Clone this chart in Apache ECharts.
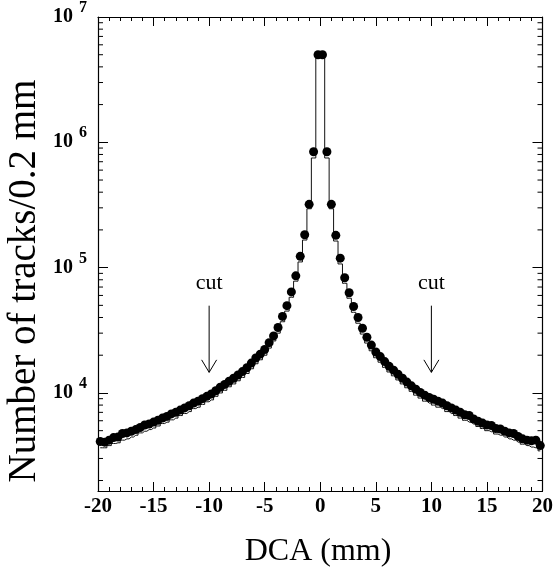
<!DOCTYPE html>
<html>
<head>
<meta charset="utf-8">
<script src="https://cdn.jsdelivr.net/npm/echarts@6/dist/echarts.min.js"></script>
<style>html,body{margin:0;padding:0;background:#fff;}#chart{width:556px;height:569px;}</style>
</head>
<body>
<div id="chart"></div>
<script>
// DCA bin centres (mm), 0.4 mm apart
var dcaBins = [-19.8,-19.4,-19.0,-18.6,-18.2,-17.8,-17.4,-17.0,-16.6,-16.2,-15.8,-15.4,-15.0,-14.6,-14.2,-13.8,-13.4,-13.0,-12.6,-12.2,
  -11.8,-11.4,-11.0,-10.6,-10.2,-9.8,-9.4,-9.0,-8.6,-8.2,-7.8,-7.4,-7.0,-6.6,-6.2,-5.8,-5.4,-5.0,-4.6,-4.2,
  -3.8,-3.4,-3.0,-2.6,-2.2,-1.8,-1.4,-1.0,-0.6,-0.2,
  0.2,0.6,1.0,1.4,1.8,2.2,2.6,3.0,3.4,3.8,4.2,4.6,5.0,5.4,5.8,6.2,6.6,7.0,7.4,7.8,
  8.2,8.6,9.0,9.4,9.8,10.2,10.6,11.0,11.4,11.8,12.2,12.6,13.0,13.4,13.8,14.2,14.6,15.0,15.4,15.8,
  16.2,16.6,17.0,17.4,17.8,18.2,18.6,19.0,19.4,19.8];

// filled points (tracks per bin)
var pointCounts = [4100,4050,4200,4400,4450,4750,4800,4950,5100,5300,5550,5650,5850,6050,6300,6500,6800,7000,7300,7600,
  7900,8300,8600,9000,9400,9800,10400,11100,11700,12400,13100,13900,14800,15900,17300,19000,20400,22200,25200,28500,
  33300,40800,49700,64000,86000,123000,183000,320000,840000,5000000,
  5000000,840000,320000,181000,119000,83000,63000,49000,40000,32800,27800,24100,21200,19500,17800,16300,15200,14100,13100,12200,
  11400,10700,10100,9600,9200,8900,8600,8300,7900,7600,7300,7000,6700,6600,6200,5950,5750,5550,5500,5200,
  5150,4950,4800,4750,4500,4300,4200,4150,4200,3800];

// histogram (step line)
var histCounts = [3650,3650,3800,3950,4000,4200,4300,4450,4600,4800,4950,5100,5250,5450,5700,5850,6100,6300,6600,6850,
  7100,7500,7700,8100,8500,8800,9400,10000,10500,11200,11800,12500,13300,14300,15600,17100,18400,20000,22800,26000,
  30000,37000,45000,58000,78000,111000,166000,295000,750000,5000000,
  5000000,750000,295000,163000,107000,75000,57000,44000,36000,29500,25000,21700,19100,17600,16000,14700,13700,12700,11800,11000,
  10300,9600,9100,8600,8300,8000,7700,7500,7100,6850,6600,6300,6050,5850,5650,5400,5200,5000,4900,4700,
  4600,4450,4300,4200,4050,3900,3800,3700,3650,3450];

// axes
var xMin = -20, xMax = 20, xStep = 5;
var yMin = 1650, yMax = 1e7;
var yMinorTicks = [2e3,3e3,4e3,5e3,6e3,7e3,8e3,9e3,2e4,3e4,4e4,5e4,6e4,7e4,8e4,9e4,
  2e5,3e5,4e5,5e5,6e5,7e5,8e5,9e5,2e6,3e6,4e6,5e6,6e6,7e6,8e6,9e6];

// "cut" annotations
var cutX = [-10, 10];
var cutArrowTop = 49700, cutArrowTip = 14600, cutLabelY = 75000;

var FONT = '"Liberation Serif", "Times New Roman", serif';

var pointData = dcaBins.map(function (x, i) { return [x, pointCounts[i]]; });
var histData = dcaBins.map(function (x, i) { return [x, histCounts[i]]; });
var minorData = yMinorTicks.map(function (v) { return [xMin, v]; });
var cutData = cutX.map(function (x) { return [x, cutArrowTop, cutArrowTip, cutLabelY]; });

var chart = echarts.init(document.getElementById('chart'), null, {renderer: 'canvas'});

var yLabelFmt = function (v) {
  var l = Math.log10(v);
  if (Math.abs(l - Math.round(l)) > 1e-6) return '';
  return '{b|10}{s|' + Math.round(l) + '}';
};

chart.setOption({
  animation: false,
  backgroundColor: '#fff',
  grid: {left: 98, right: 13, top: 17, bottom: 78, containLabel: false},
  xAxis: [{
    type: 'value', min: xMin, max: xMax, interval: xStep, position: 'bottom',
    axisLine: {show: true, onZero: false, lineStyle: {color: '#000', width: 1.2}},
    axisTick: {show: true, inside: true, length: 9, lineStyle: {color: '#000', width: 1}},
    minorTick: {show: true, splitNumber: 5, length: 4, lineStyle: {color: '#000', width: 1}},
    splitLine: {show: false}, minorSplitLine: {show: false},
    axisLabel: {show: true, margin: 5, color: '#000', fontFamily: FONT, fontWeight: 'bold', fontSize: 21,
      formatter: function (v) { return String(v); }}
  }, {
    type: 'value', min: xMin, max: xMax, interval: xStep, position: 'top',
    axisLine: {show: true, onZero: false, lineStyle: {color: '#000', width: 1.2}},
    axisTick: {show: true, inside: true, length: 9, lineStyle: {color: '#000', width: 1}},
    minorTick: {show: true, splitNumber: 5, length: 4, lineStyle: {color: '#000', width: 1}},
    splitLine: {show: false}, axisLabel: {show: false}
  }],
  yAxis: [{
    type: 'log', logBase: 10, min: yMin, max: yMax, position: 'left',
    axisLine: {show: true, onZero: false, lineStyle: {color: '#000', width: 1.2}},
    axisTick: {show: true, inside: true, length: 10, lineStyle: {color: '#000', width: 1}},
    splitLine: {show: false},
    axisLabel: {show: true, margin: 11, color: '#000', formatter: yLabelFmt,
      rich: {
        b: {fontFamily: FONT, fontWeight: 'bold', fontSize: 20, lineHeight: 34, verticalAlign: 'middle', color: '#000'},
        s: {fontFamily: FONT, fontWeight: 'bold', fontSize: 16, lineHeight: 16, verticalAlign: 'top', padding: [0, 0, 0, 6], color: '#000'}
      }}
  }, {
    type: 'log', logBase: 10, min: yMin, max: yMax, position: 'right',
    axisLine: {show: true, onZero: false, lineStyle: {color: '#000', width: 1.2}},
    axisTick: {show: true, inside: true, length: 10, lineStyle: {color: '#000', width: 1}},
    splitLine: {show: false}, axisLabel: {show: false}
  }],
  graphic: [{
    type: 'text', x: 318, y: 552,
    style: {text: 'DCA (mm)', font: '32px ' + FONT, fill: '#000', align: 'center', verticalAlign: 'middle'}
  }, {
    type: 'text', x: 25, y: 281, rotation: Math.PI / 2,
    style: {text: 'Number of tracks/0.2 mm', font: '39px ' + FONT, fill: '#000', align: 'center', verticalAlign: 'middle'}
  }],
  series: [{
    type: 'line', data: histData, step: 'middle', showSymbol: false, symbol: 'none',
    lineStyle: {color: '#111', width: 1}, z: 2, clip: false
  }, {
    type: 'scatter', data: pointData, symbol: 'circle', symbolSize: 9,
    itemStyle: {color: '#000', opacity: 1}, z: 3, clip: false
  }, {
    type: 'custom', data: minorData, clip: false, silent: true, z: 4,
    renderItem: function (params, api) {
      var v = api.value(1);
      var pL = api.coord([xMin, v]);
      var pR = api.coord([xMax, v]);
      return {type: 'group', children: [
        {type: 'line', shape: {x1: pL[0], y1: pL[1], x2: pL[0] + 5, y2: pL[1]}, style: {stroke: '#000', lineWidth: 1}},
        {type: 'line', shape: {x1: pR[0], y1: pR[1], x2: pR[0] - 5, y2: pR[1]}, style: {stroke: '#000', lineWidth: 1}}
      ]};
    }
  }, {
    type: 'custom', data: cutData, clip: false, silent: true, z: 5,
    renderItem: function (params, api) {
      var x = api.value(0);
      var pTop = api.coord([x, api.value(1)]);
      var pTip = api.coord([x, api.value(2)]);
      var pLab = api.coord([x, api.value(3)]);
      return {type: 'group', children: [
        {type: 'line', shape: {x1: pTop[0], y1: pTop[1], x2: pTip[0], y2: pTip[1]}, style: {stroke: '#000', lineWidth: 1}},
        {type: 'polyline', shape: {points: [[pTip[0] - 7.5, pTip[1] - 12.5], [pTip[0], pTip[1]], [pTip[0] + 7.5, pTip[1] - 12.5]]},
          style: {stroke: '#000', lineWidth: 1, fill: null}},
        {type: 'text', x: pLab[0], y: pLab[1], style: {text: 'cut', font: '22px ' + FONT, fill: '#000', align: 'center', verticalAlign: 'middle'}}
      ]};
    }
  }]
});
</script>
</body>
</html>
